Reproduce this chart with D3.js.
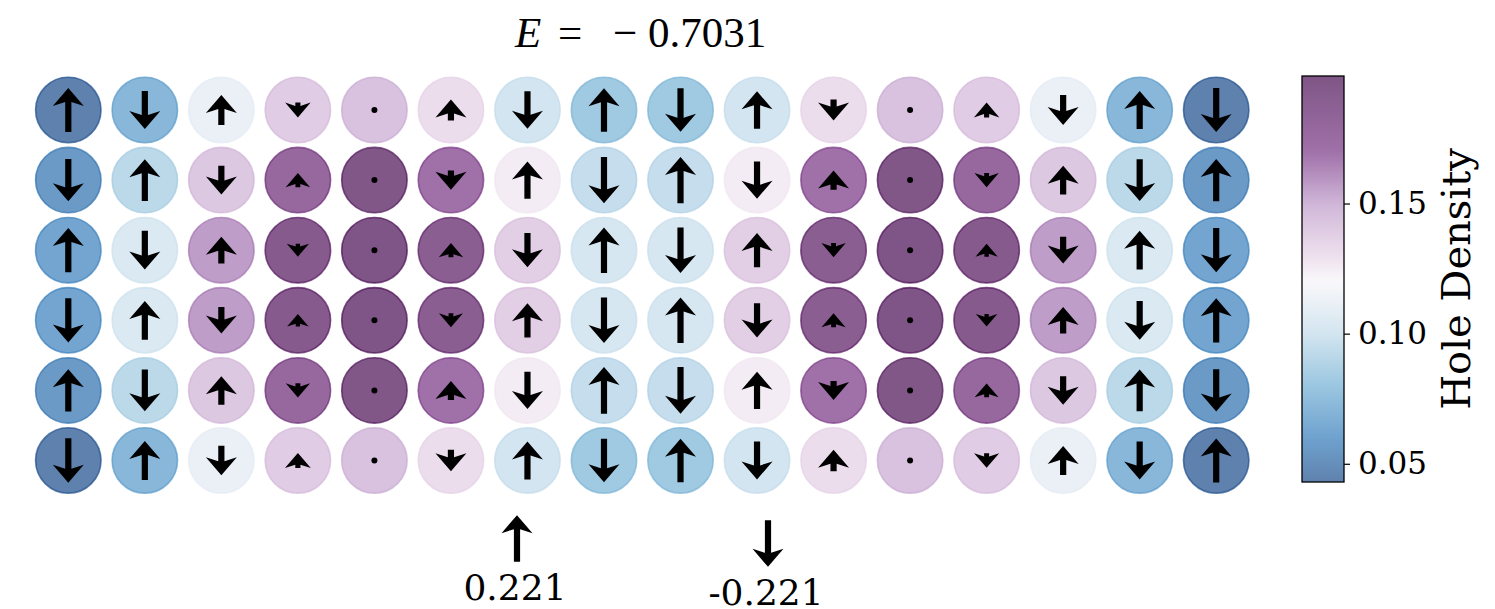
<!DOCTYPE html>
<html><head><meta charset="utf-8">
<script src="https://cdn.jsdelivr.net/npm/d3@7"></script>
<style>html,body{margin:0;padding:0;background:#fff;}</style>
</head><body>
<svg id="chart" width="1495" height="609"></svg>
<script>
// ---- data ----
const columns = d3.range(16);
const rows = d3.range(6);
const titleParts = ["E", "=", "−", "0.7031"];
const colorbarLabel = "Hole Density";
const colorbarTicks = [0.05, 0.10, 0.15];
const keyValues = [0.221, -0.221];
const keyLabels = ["0.221", "-0.221"];

const density0 = [0.043, 0.072, 0.112, 0.139, 0.144, 0.131, 0.100, 0.082, 0.082, 0.100, 0.131, 0.144, 0.139, 0.112, 0.072, 0.043];
const density1 = [0.056, 0.092, 0.141, 0.178, 0.197, 0.170, 0.125, 0.095, 0.095, 0.125, 0.170, 0.197, 0.178, 0.141, 0.092, 0.056];
const density2 = [0.062, 0.104, 0.157, 0.193, 0.199, 0.189, 0.138, 0.102, 0.102, 0.138, 0.189, 0.199, 0.193, 0.157, 0.104, 0.062];
const density3 = [0.062, 0.104, 0.157, 0.193, 0.199, 0.189, 0.138, 0.102, 0.102, 0.138, 0.189, 0.199, 0.193, 0.157, 0.104, 0.062];
const density4 = [0.056, 0.092, 0.141, 0.178, 0.197, 0.170, 0.125, 0.095, 0.095, 0.125, 0.170, 0.197, 0.178, 0.141, 0.092, 0.056];
const density5 = [0.043, 0.072, 0.112, 0.139, 0.144, 0.131, 0.100, 0.082, 0.082, 0.100, 0.131, 0.144, 0.139, 0.112, 0.072, 0.043];

const spin0 = [0.208, -0.180, 0.141, -0.070, 0, 0.099, -0.177, 0.206, -0.206, 0.177, -0.099, 0, 0.070, -0.141, 0.180, -0.208];
const spin1 = [-0.199, 0.198, -0.137, 0.067, 0, -0.092, 0.176, -0.219, 0.219, -0.176, 0.092, 0, -0.067, 0.137, -0.198, 0.199];
const spin2 = [0.209, -0.183, 0.127, -0.061, 0, 0.067, -0.162, 0.215, -0.215, 0.162, -0.067, 0, 0.061, -0.127, 0.183, -0.209];
const spin3 = [-0.209, 0.183, -0.125, 0.059, 0, -0.066, 0.162, -0.216, 0.216, -0.162, 0.066, 0, -0.059, 0.125, -0.183, 0.209];
const spin4 = [0.200, -0.197, 0.135, -0.067, 0, 0.090, -0.177, 0.221, -0.221, 0.177, -0.090, 0, 0.066, -0.135, 0.197, -0.199];
const spin5 = [-0.210, 0.184, -0.139, 0.071, 0, -0.101, 0.179, -0.207, 0.207, -0.179, 0.101, 0, -0.069, 0.138, -0.180, 0.209];

const densityRows = [density0, density1, density2, density3, density4, density5];
const spinRows = [spin0, spin1, spin2, spin3, spin4, spin5];

// colormap (blue -> white -> purple), drawn with alpha
const cmapStops = ["#1b4c8a", "#317aba", "#70aed3", "#c0dae9", "#f8f5f9", "#e6d2e6", "#bb96c8", "#773383", "#480c52"];
const cmapPos   = [0, 0.109, 0.237, 0.365, 0.494, 0.558, 0.686, 0.814, 1];

// ---- build ----
const cells = [];
rows.forEach(r => columns.forEach(c => cells.push({r, c, d: densityRows[r][c], s: spinRows[r][c]})));

const svg = d3.select("#chart");
const x = d3.scalePoint().domain(columns).range([68.3, 1216.2]);
const y = d3.scalePoint().domain(rows).range([110, 460.5]);
const ext = d3.extent(cells, d => d.d);
const norm = d3.scaleLinear().domain(ext).range([0, 1]).clamp(true);
const cmapT = d3.scaleLinear().domain(cmapPos).range(cmapStops).interpolate(d3.interpolateRgb);
const color = v => cmapT(norm(v));
const arrowLen = d3.scaleLinear().domain([0, 0.221]).range([0, 46.7]);

const ALPHA = 0.7;
const R = 32.7;

function arrowPts(v) {
  const L = arrowLen(Math.abs(v));
  const W = 6.2, HW = 31, HL = 18, HA = 14;
  const k = L < HL ? L / HL : 1;
  const Lf = Math.max(L, HL);
  const dir = v >= 0 ? -1 : 1; // up => negative svg y
  return [
    [0, Lf/2], [HW/2, Lf/2 - HL], [W/2, Lf/2 - HA], [W/2, -Lf/2],
    [-W/2, -Lf/2], [-W/2, Lf/2 - HA], [-HW/2, Lf/2 - HL]
  ].map(([px, a]) => [px * k, dir * a * k]);
}

const g = svg.append("g");
g.selectAll("circle.site").data(cells).join("circle")
  .attr("class", "site")
  .attr("cx", d => x(d.c)).attr("cy", d => y(d.r)).attr("r", R)
  .attr("fill", d => color(d.d)).attr("fill-opacity", ALPHA)
  .attr("stroke", d => color(d.d)).attr("stroke-opacity", ALPHA).attr("stroke-width", 1.6);

g.selectAll("g.arrow").data(cells).join("g")
  .attr("class", "arrow")
  .attr("transform", d => `translate(${x(d.c)},${y(d.r)})`)
  .each(function(d) {
    const sel = d3.select(this);
    if (arrowLen(Math.abs(d.s)) < 1) {
      sel.append("circle").attr("r", 3).attr("fill", "#000");
    } else {
      sel.append("path").attr("d", d3.line()(arrowPts(d.s)) + "Z").attr("fill", "#000");
    }
  });

// title
const titleX = [515, 558, 613, 648];
const t = svg.append("text").attr("y", 47)
  .style("font-family", "'Liberation Serif', serif").style("font-size", "43px");
titleParts.forEach((p, i) => {
  t.append("tspan").attr("x", titleX[i]).attr("font-style", i === 0 ? "italic" : null).text(p);
});

// colorbar
const cb = d3.scaleLinear().domain(ext).range([482, 76]);
const cbX = 1302, cbW = 42;
const defs = svg.append("defs");
const grad = defs.append("linearGradient").attr("id", "cbgrad")
  .attr("x1", 0).attr("y1", 1).attr("x2", 0).attr("y2", 0);
d3.range(0, 1.0001, 0.02).forEach(p => {
  grad.append("stop").attr("offset", p).attr("stop-color", cmapT(p)).attr("stop-opacity", ALPHA);
});
svg.append("rect").attr("x", cbX).attr("y", cb(ext[1])).attr("width", cbW)
  .attr("height", cb(ext[0]) - cb(ext[1])).attr("fill", "url(#cbgrad)")
  .attr("stroke", "#000").attr("stroke-width", 1.3);
const axis = svg.append("g").attr("transform", `translate(${cbX + cbW},0)`)
  .call(d3.axisRight(cb).tickValues(colorbarTicks).tickFormat(d3.format(".2f")).tickSize(6).tickPadding(8));
axis.select(".domain").remove();
axis.selectAll(".tick line").attr("stroke", "#000").attr("stroke-width", 1.2);
axis.selectAll(".tick text").style("font-family", "'DejaVu Serif', serif").style("font-size", "31px").attr("fill", "#000");
svg.append("text").attr("transform", `translate(1470,${(cb(ext[0]) + cb(ext[1])) / 2}) rotate(-90)`)
  .attr("text-anchor", "middle")
  .style("font-family", "'DejaVu Serif', serif").style("font-size", "40px").text(colorbarLabel);

// quiver key
const keyX = [517, 768];
const keyY = [538.5, 543.5];
const labelY = [600, 605];
keyValues.forEach((v, i) => {
  svg.append("path").attr("transform", `translate(${keyX[i]},${keyY[i]})`)
    .attr("d", d3.line()(arrowPts(v)) + "Z").attr("fill", "#000");
  svg.append("text").attr("x", keyX[i] - 2).attr("y", labelY[i]).attr("text-anchor", "middle")
    .style("font-family", "'DejaVu Serif', serif").style("font-size", "36px").text(keyLabels[i]);
});
</script>
</body></html>
